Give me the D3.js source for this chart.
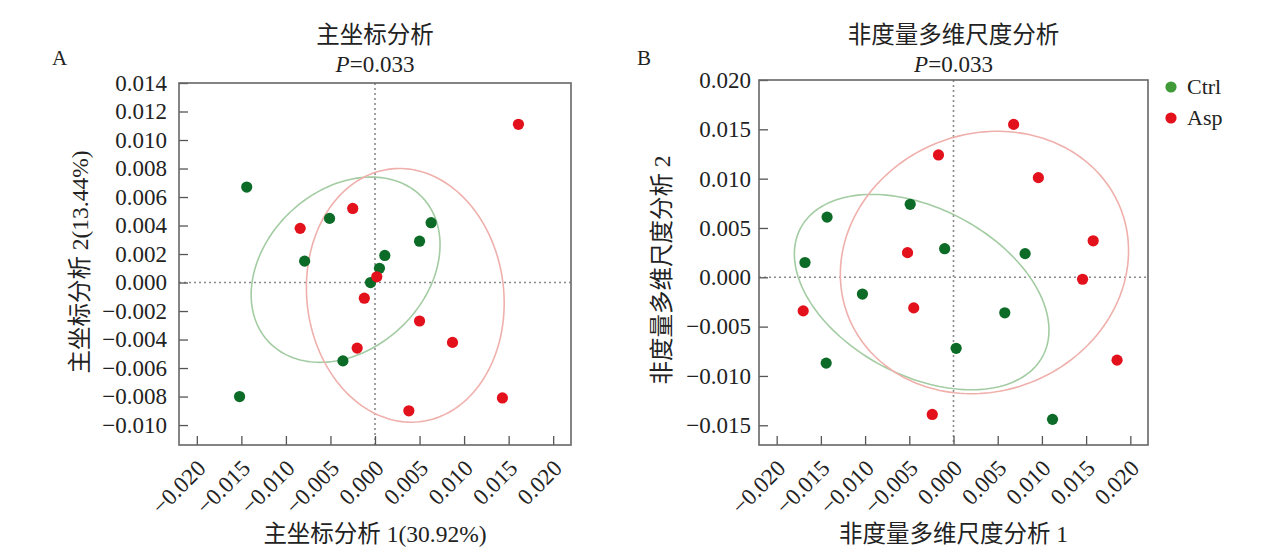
<!DOCTYPE html>
<html>
<head>
<meta charset="utf-8">
<title></title>
<style>
  body { margin: 0; background: #fff; }
  svg text { font-family: "Liberation Serif", "Noto Sans CJK SC", serif; fill: #222; }
</style>
</head>
<body>
<script src="https://cdnjs.cloudflare.com/ajax/libs/d3/7.8.5/d3.min.js"></script>
<script>

// ---- data ----
var groups = ["Ctrl", "Asp"];
var groupColors = ["#0b6b27", "#e3111b"];
var legendColors = ["#3f9a37", "#e3111b"];
var ellipseColors = ["#a3cca3", "#efb0ac"];

// panel A: PCoA scores
var pcoaCtrl = [[-0.0144, 0.0067], [-0.0051, 0.0045], [-0.0079, 0.0015], [0.0063, 0.0042],
                [0.0050, 0.0029], [0.0011, 0.0019], [0.0005, 0.0010], [-0.0005, 0.0000],
                [-0.0036, -0.0055], [-0.0152, -0.0080]];
var pcoaAsp = [[0.0161, 0.0111], [-0.0025, 0.0052], [-0.0084, 0.0038], [0.0002, 0.0004],
               [-0.0012, -0.0011], [0.0050, -0.0027], [0.0087, -0.0042], [-0.0020, -0.0046],
               [0.0038, -0.0090], [0.0143, -0.0081]];
// ellipse: centre x, centre y, half width, half height, correlation
var pcoaEllipses = [[-0.0033, 0.0009, 0.0106, 0.0065, 0.27],
                    [0.0034, -0.0009, 0.0111, 0.0089, -0.06]];

// panel B: NMDS scores
var nmdsCtrl = [[-0.0143, 0.0061], [-0.0168, 0.0015], [-0.0049, 0.0074], [-0.0010, 0.0029],
                [0.0081, 0.0024], [-0.0103, -0.0017], [0.0058, -0.0036], [0.0003, -0.0072],
                [-0.0144, -0.0087], [0.0112, -0.0144]];
var nmdsAsp = [[0.0068, 0.0155], [-0.0017, 0.0124], [0.0096, 0.0101], [0.0158, 0.0037],
               [-0.0052, 0.0025], [0.0146, -0.0002], [-0.0170, -0.0034], [-0.0045, -0.0031],
               [0.0185, -0.0084], [-0.0024, -0.0139]];
var nmdsEllipses = [[-0.0036, -0.0015, 0.0144, 0.0099, -0.39],
                    [0.0035, 0.0015, 0.0163, 0.0133, 0.09]];

var xTicks = [-0.020, -0.015, -0.010, -0.005, 0.000, 0.005, 0.010, 0.015, 0.020];
var yTicksA = [-0.010, -0.008, -0.006, -0.004, -0.002, 0.000, 0.002, 0.004, 0.006, 0.008, 0.010, 0.012, 0.014];
var yTicksB = [-0.015, -0.010, -0.005, 0.000, 0.005, 0.010, 0.015, 0.020];

var W = 1268, H = 555;

var svg = d3.select("body").append("svg")
    .attr("width", W)
    .attr("height", H);

function fmt(d) {
    return (d < 0 ? "\u2212" : "") + Math.abs(d).toFixed(3);
}

function drawPanel(o) {
    var x = d3.scaleLinear().domain(o.xDomain).range([o.left, o.right]);
    var y = d3.scaleLinear().domain(o.yDomain).range([o.bottom, o.top]);
    var g = svg.append("g");

    // zero lines
    g.append("line")
        .attr("x1", x(0)).attr("x2", x(0))
        .attr("y1", o.top).attr("y2", o.bottom)
        .attr("stroke", "#8a8a8a").attr("stroke-width", 1.6)
        .attr("stroke-dasharray", "2,3");
    g.append("line")
        .attr("x1", o.left).attr("x2", o.right)
        .attr("y1", y(0)).attr("y2", y(0))
        .attr("stroke", "#8a8a8a").attr("stroke-width", 1.6)
        .attr("stroke-dasharray", "2,3");

    // axes, ticks pointing inward
    var xa = g.append("g")
        .attr("transform", "translate(0," + o.bottom + ")")
        .call(d3.axisBottom(x).tickValues(xTicks).tickSizeInner(-9).tickSizeOuter(0).tickFormat(fmt));
    xa.select(".domain").remove();
    xa.selectAll("line").attr("stroke", "#555").attr("stroke-width", 1.3);
    xa.selectAll("text")
        .attr("x", 0).attr("y", 0).attr("dy", "0.35em")
        .attr("transform", "translate(4,19) rotate(-45)")
        .attr("text-anchor", "end")
        .style("font-size", "23px")
        .attr("fill", "#222");

    var ya = g.append("g")
        .attr("transform", "translate(" + o.left + ",0)")
        .call(d3.axisLeft(y).tickValues(o.yTicks).tickSizeInner(-9).tickSizeOuter(0).tickPadding(o.pad).tickFormat(fmt));
    ya.select(".domain").remove();
    ya.selectAll("line").attr("stroke", "#555").attr("stroke-width", 1.3);
    ya.selectAll("text").style("font-size", "23px").attr("fill", "#222");

    // frame
    g.append("rect")
        .attr("x", o.left).attr("y", o.top)
        .attr("width", o.right - o.left).attr("height", o.bottom - o.top)
        .attr("fill", "none").attr("stroke", "#666").attr("stroke-width", 1.6);

    // ellipses
    var ts = d3.range(0, 2 * Math.PI, Math.PI / 90);
    var line = d3.line().curve(d3.curveLinearClosed)
        .x(function(d) { return x(d[0]); })
        .y(function(d) { return y(d[1]); });
    o.ellipses.forEach(function(e, i) {
        var pts = ts.map(function(t) {
            return [e[0] + e[2] * Math.cos(t),
                    e[1] + e[3] * (e[4] * Math.cos(t) + Math.sqrt(1 - e[4] * e[4]) * Math.sin(t))];
        });
        g.append("path")
            .attr("d", line(pts))
            .attr("fill", "none")
            .attr("stroke", ellipseColors[i])
            .attr("stroke-width", 1.6);
    });

    // points
    o.series.forEach(function(s, i) {
        g.selectAll(null)
            .data(s)
            .enter()
            .append("circle")
            .attr("cx", function(d) { return x(d[0]); })
            .attr("cy", function(d) { return y(d[1]); })
            .attr("r", 5.6)
            .attr("fill", groupColors[i]);
    });

    var cx = (o.left + o.right) / 2;
    g.append("text").attr("x", cx).attr("y", 43).attr("text-anchor", "middle")
        .style("font-size", "23.5px").text(o.title);
    var p = g.append("text").attr("x", cx).attr("y", 72).attr("text-anchor", "middle")
        .style("font-size", "23px");
    p.append("tspan").attr("font-style", "italic").text("P");
    p.append("tspan").text("=0.033");

    g.append("text").attr("x", o.tag[0]).attr("y", o.tag[1])
        .style("font-size", "21px").text(o.tagText);

    g.append("text").attr("x", cx).attr("y", 542).attr("text-anchor", "middle")
        .style("font-size", "23.5px").text(o.xLabel);
    g.append("text")
        .attr("transform", "translate(" + o.yLabelX + "," + o.yLabelY + ") rotate(-90)")
        .attr("text-anchor", "middle")
        .style("font-size", "23.5px").text(o.yLabel);
}

drawPanel({
    left: 179, right: 571, top: 83, bottom: 445,
    xDomain: [-0.022, 0.022], yDomain: [-0.0114, 0.014],
    yTicks: yTicksA, pad: 12,
    series: [pcoaCtrl, pcoaAsp],
    ellipses: pcoaEllipses,
    title: "主坐标分析",
    tag: [52, 65], tagText: "A",
    xLabel: "主坐标分析 1(30.92%)",
    yLabel: "主坐标分析 2(13.44%)",
    yLabelX: 88, yLabelY: 262
});

drawPanel({
    left: 759, right: 1148, top: 80, bottom: 445,
    xDomain: [-0.022, 0.022], yDomain: [-0.017, 0.020],
    yTicks: yTicksB, pad: 8,
    series: [nmdsCtrl, nmdsAsp],
    ellipses: nmdsEllipses,
    title: "非度量多维尺度分析",
    tag: [637, 65], tagText: "B",
    xLabel: "非度量多维尺度分析 1",
    yLabel: "非度量多维尺度分析 2",
    yLabelX: 670, yLabelY: 270
});

// legend
var legend = svg.append("g").attr("transform", "translate(1171,0)");
groups.forEach(function(name, i) {
    legend.append("circle").attr("cx", 0).attr("cy", 87 + i * 31).attr("r", 5.6)
        .attr("fill", legendColors[i]);
    legend.append("text").attr("x", 16).attr("y", 94 + i * 31)
        .style("font-size", "22px").text(name);
});

</script>
</body>
</html>
